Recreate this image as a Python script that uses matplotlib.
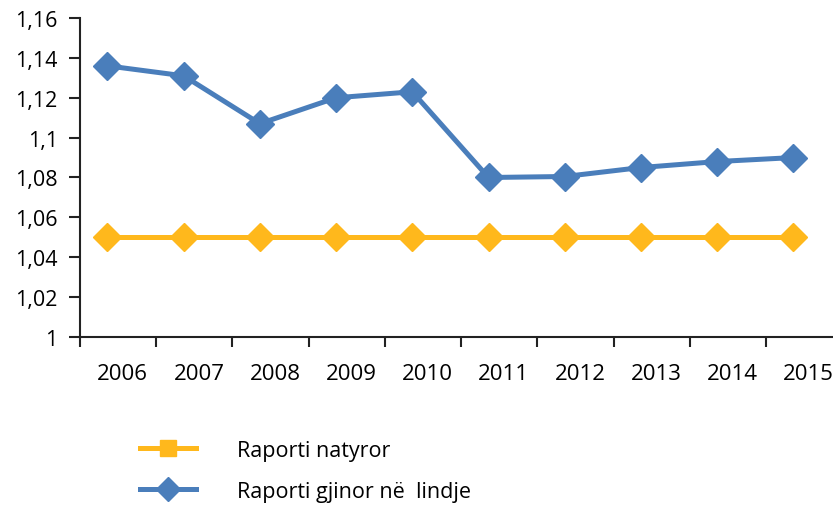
import numpy as np
import matplotlib.pyplot as plt
from matplotlib.lines import Line2D
from matplotlib.ticker import FuncFormatter, FixedLocator

plt.rcParams['font.family'] = ['Open Sans', 'DejaVu Sans']

# data
years = ['2006', '2007', '2008', '2009', '2010', '2011', '2012', '2013', '2014', '2015']
natyror = [1.05, 1.05, 1.05, 1.05, 1.05, 1.05, 1.05, 1.05, 1.05, 1.05]
gjinor = [1.136, 1.131, 1.107, 1.120, 1.123, 1.080, 1.0805, 1.085, 1.088, 1.090]

ORANGE = '#FFB81C'
BLUE = '#4A7EBB'
AXIS = '#222222'

fig = plt.figure(figsize=(8.33, 5.06), dpi=100)
ax = fig.add_axes([80 / 833, 1 - 338 / 506, (833 - 80) / 833, (338 - 19) / 506])

x = np.arange(len(years))
ax.plot(x, natyror, color=ORANGE, lw=3.6, marker='D', ms=14, zorder=3)
ax.plot(x, gjinor, color=BLUE, lw=3.6, marker='D', ms=14, zorder=4)

# category layout: boundaries slightly left of each point
left = -0.36
ax.set_xlim(left, left + len(years) - 0.12)
ax.set_ylim(1, 1.16)

ax.yaxis.set_major_locator(FixedLocator(np.arange(1, 1.1601, 0.02)))
ax.yaxis.set_major_formatter(FuncFormatter(lambda v, p: f'{round(v, 2):g}'.replace('.', ',')))
ax.tick_params(axis='y', length=8, width=1.5, color=AXIS, pad=8, labelsize=15.5)

ax.set_xticks(x + 0.2)
ax.set_xticklabels(years)
ax.set_xticks(left + np.arange(len(years)), minor=True)
ax.tick_params(axis='x', which='major', length=0, pad=19, labelsize=16)
ax.tick_params(axis='x', which='minor', length=7, width=1.5, color=AXIS)

for s in ['top', 'right']:
    ax.spines[s].set_visible(False)
for s in ['left', 'bottom']:
    ax.spines[s].set_linewidth(1.5)
    ax.spines[s].set_color(AXIS)

handles = [
    Line2D([0], [0], color=ORANGE, lw=3.6, marker='s', ms=11),
    Line2D([0], [0], color=BLUE, lw=3.6, marker='D', ms=12),
]
fig.legend(handles, ['Raporti natyror', 'Raporti gjinor në  lindje'],
           loc='upper left', bbox_to_anchor=(140 / 833, 1 - 441 / 506),
           frameon=False, fontsize=15.5, handlelength=2.6, handletextpad=1.9,
           labelspacing=0.92, borderpad=0, borderaxespad=0)

fig.savefig('out.png', dpi=100, facecolor='white')
